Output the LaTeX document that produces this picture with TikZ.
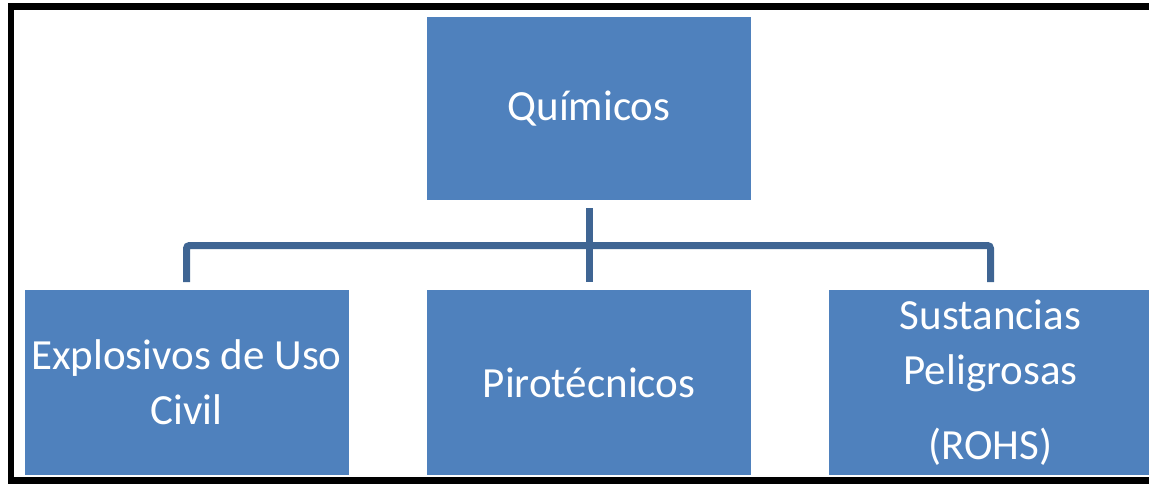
\documentclass[tikz,border=0pt]{standalone}
\usepackage{fontspec}
\setmainfont{Carlito}
\definecolor{boxblue}{HTML}{4F81BD}
\definecolor{linkblue}{HTML}{3F6593}

\begin{document}
\begin{tikzpicture}[x=1pt,y=-1pt,
    box/.style={fill=boxblue,text=white,minimum width=324pt,align=center,
      outer sep=8pt,font=\fontsize{43}{55}\selectfont},
    link/.style={draw=linkblue,line width=7pt,rounded corners=3pt}]
    \clip (0,0) rectangle (1149,484);
    \node[box,minimum height=183pt] (qui) at (589,108.5) {Químicos};
    \node[box,minimum height=185pt] (exp) at (186.5,382.5) {Explosivos de Uso\\Civil};
    \node[box,minimum height=185pt] (pir) at (589,382.5) {Pirotécnicos};
    \node[box,minimum height=185pt] (sus) at (990.5,382.5) {Sustancias\\Peligrosas\\[20pt](ROHS)};
    \coordinate (bar) at (589,245.5);
    \draw[link] (exp.north) |- (sus.north |- bar) -- (sus.north);
    \draw[link] (qui.south) -- (pir.north);
    \draw[line width=6.5pt] (11,6.5) rectangle (1170,480.5);
  \end{tikzpicture}
\end{document}
